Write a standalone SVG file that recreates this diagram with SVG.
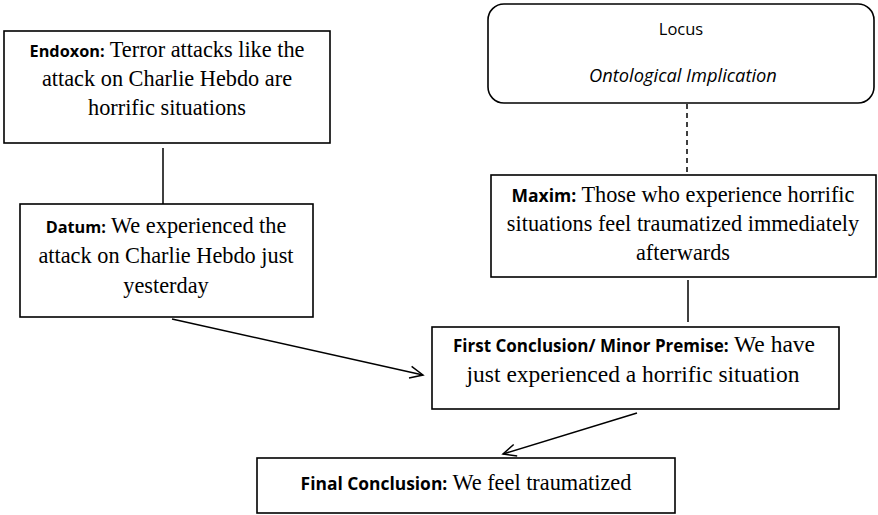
<svg xmlns="http://www.w3.org/2000/svg" width="878" height="515" viewBox="0 0 878 515">
<defs>
<style>
.box{fill:#fff;stroke:#000;stroke-width:1.6}
.t{font-family:"Liberation Serif","Times New Roman",serif;font-size:22.3px;fill:#000;text-anchor:middle}
.b{font-family:"Open Sans","Liberation Sans",sans-serif;font-size:16.3px;font-weight:bold}
.s{font-family:"Open Sans","Liberation Sans",sans-serif;font-size:16.5px;fill:#000;text-anchor:middle}
.ln{stroke:#000;stroke-width:1.5;fill:none}
</style>
<marker id="arr" markerWidth="20" markerHeight="20" refX="14" refY="7" orient="auto" markerUnits="userSpaceOnUse" viewBox="0 0 20 14">
<path d="M1,1 L14,7 L1,13" fill="none" stroke="#000" stroke-width="1.5"/>
</marker>
</defs>
<rect width="878" height="515" fill="#fff"/>
<g id="connectors">
<line class="ln" x1="163" y1="148" x2="163" y2="204"/>
<line class="ln" x1="687" y1="104" x2="687" y2="174" stroke-dasharray="5,4"/>
<line class="ln" x1="688" y1="280" x2="688" y2="322"/>
<line class="ln" x1="172" y1="319" x2="423" y2="375" marker-end="url(#arr)"/>
<line class="ln" x1="637" y1="413" x2="503" y2="454" marker-end="url(#arr)"/>
</g>
<g id="endoxon">
<rect class="box" x="4" y="31" width="326" height="112"/>
<text class="t" x="167" y="57"><tspan class="b">Endoxon:</tspan> Terror attacks like the</text>
<text class="t" x="167" y="86">attack on Charlie Hebdo are</text>
<text class="t" x="167" y="115">horrific situations</text>
</g>
<g id="datum">
<rect class="box" x="20" y="204" width="293" height="113"/>
<text class="t" x="166" y="233"><tspan class="b">Datum:</tspan> We experienced the</text>
<text class="t" x="166" y="263">attack on Charlie Hebdo just</text>
<text class="t" x="166" y="293">yesterday</text>
</g>
<g id="locus">
<rect class="box" x="488" y="4" width="386" height="99" rx="16" ry="16"/>
<text class="s" x="681" y="35">Locus</text>
<text class="s" x="683" y="82" style="font-style:italic;font-size:18.3px">Ontological Implication</text>
</g>
<g id="maxim">
<rect class="box" x="491" y="175" width="385" height="102"/>
<text class="t" x="683" y="202"><tspan class="b" style="font-size:17.5px">Maxim:</tspan> Those who experience horrific</text>
<text class="t" x="683" y="231">situations feel traumatized immediately</text>
<text class="t" x="683" y="260">afterwards</text>
</g>
<g id="first-conclusion">
<rect class="box" x="432" y="327" width="407" height="82"/>
<text class="t" x="634" y="352" style="font-size:23.5px"><tspan class="b" style="font-size:17px">First Conclusion/ Minor Premise:</tspan> We have</text>
<text class="t" x="633" y="382" style="font-size:23.5px">just experienced a horrific situation</text>
</g>
<g id="final-conclusion">
<rect class="box" x="257" y="458" width="418" height="55"/>
<text class="t" x="466" y="490"><tspan class="b" style="font-size:17.4px">Final Conclusion:</tspan> We feel traumatized</text>
</g>
</svg>
